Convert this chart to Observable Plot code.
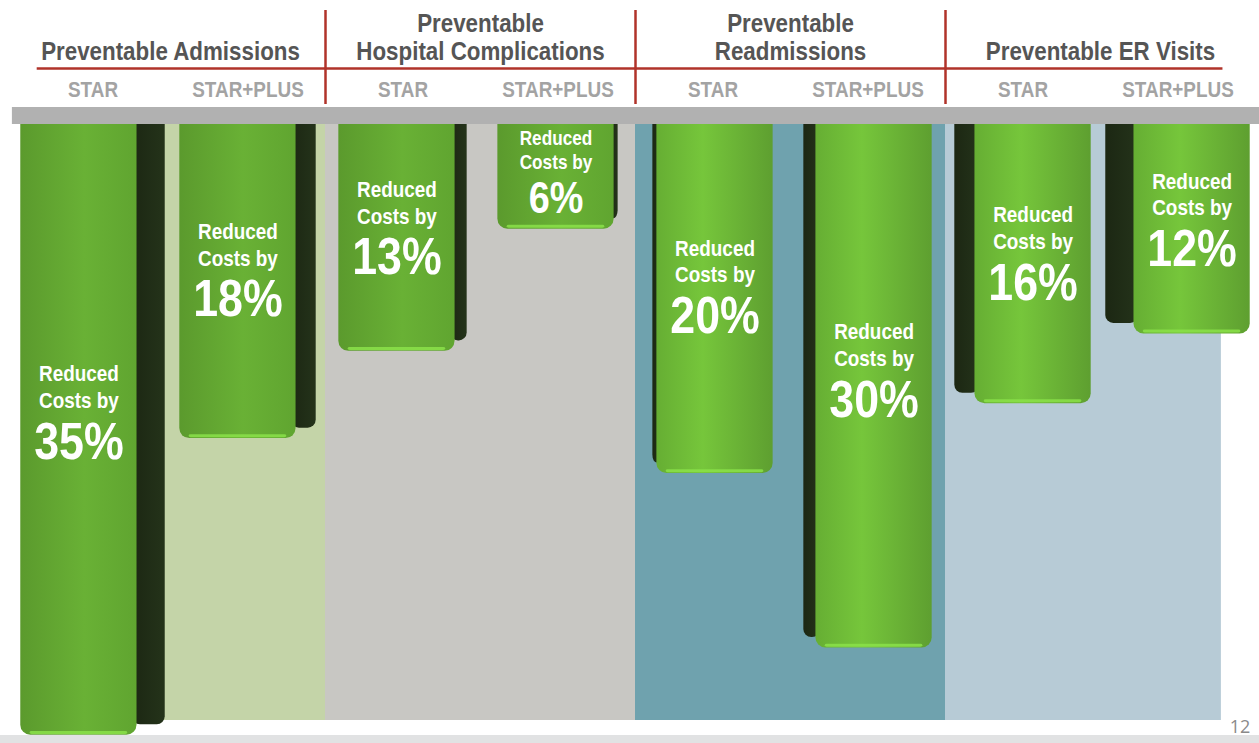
<!DOCTYPE html>
<html><head><meta charset="utf-8">
<script src="https://cdn.jsdelivr.net/npm/d3@7"></script>
<script src="https://cdn.jsdelivr.net/npm/@observablehq/plot@0.6"></script>
<style>html,body{margin:0;padding:0;background:#fff;overflow:hidden}</style>
</head><body><div id="chart"></div>
<script>
// ---- data ----
const groups = ["Preventable Admissions", "Preventable\nHospital Complications", "Preventable\nReadmissions", "Preventable ER Visits"];
const programs = ["STAR", "STAR+PLUS"];
const reductions = [35, 18, 13, 6, 20, 30, 16, 12]; // % cost reduction, group by group, STAR then STAR+PLUS
const labelLines = "Reduced\nCosts by";
const pageNumber = "12";

// ---- styles ----
const panelFill = ["#c4d4a8", "#c8c7c3", "#6fa2ae", "#b7cbd6"];
const FONT = "Liberation Sans, Arial, sans-serif";
const SQUEEZE = 0.86; // condensed look of the original typeface
const K = 17.45; // px per percentage point
const TOP = 124;  // px where bars hang from
const H = 743, W = 1259;
const u = px => (px - TOP) / K; // convert a pixel offset into y units (layout helper)

const bars = reductions.map((v, i) => {
  const c = i + 0.5;
  const p = (3.5 - i) * 0.052;      // perspective side width (slot units)
  const fw = 0.75;
  const tot = fw + Math.abs(p);
  const left = c - tot / 2;
  const face = p > 0 ? [left, left + fw] : [left + Math.abs(p), left + tot];
  const side = p > 0 ? [left + fw - 0.03, left + tot] : [left, left + Math.abs(p) + 0.03];
  return {i, group: Math.floor(i / 2), program: programs[i % 2], value: v, face, side, fc: (face[0] + face[1]) / 2,
          ly: 0.48 * v + 1.4};
});
const panels = groups.map((g, j) => ({j, x1: j === 0 ? 0.1 : 2 * j, x2: j === 3 ? 7.78 : 2 * j + 2}));

const textOpts = {fontFamily: FONT, fontWeight: "bold"};

const chart = Plot.plot({
  width: W, height: H, margin: 0,
  x: {domain: [0, 8], range: [15, 1255], axis: null},
  y: {domain: [u(0), u(H)], range: [0, H], axis: null},
  marks: [
    // bottom page strip
    Plot.rect([0], {x1: -0.1, x2: 8.1, y1: u(735), y2: u(H + 5), fill: "#e1e2e3"}),
    // panels
    Plot.rect(panels, {x1: "x1", x2: "x2", y1: -0.9, y2: u(720), fill: d => panelFill[d.j]}),
    // bar sides
    Plot.rect(bars, {x1: d => d.side[0], x2: d => d.side[1], y1: -0.85, y2: d => d.value - 0.6, fill: "url(#sideGrad)", rx: 8}),
    // bar faces
    Plot.rect(bars, {x1: d => d.face[0], x2: d => d.face[1], y1: -0.85, y2: "value", fill: d => d.i < 4 ? "url(#faceL)" : "url(#faceR)", rx: 10}),
    Plot.rect(bars, {x1: d => d.face[0] + 0.06, x2: d => d.face[1] - 0.06, y1: d => d.value - 0.22, y2: d => d.value - 0.05, fill: "#8be24a", fillOpacity: 0.85, rx: 2}),
    // top gray bar
    Plot.rect([0], {x1: -0.02, x2: 8.1, y1: u(107), y2: 0, fill: "#b1b1b1"}),
    // labels in bars
    Plot.text(bars, {x: "fc", y: d => d.ly - (d.value < 8 ? 50 : 56) / K, text: () => labelLines,
      fontSize: d => d.value < 8 ? 20 : 22, lineHeight: 1.22, fill: "white", ...textOpts}),
    Plot.text(bars, {x: "fc", y: "ly", text: d => d.value + "%", fontSize: d => d.value < 8 ? 44 : 52,
      fill: "white", ...textOpts, letterSpacing: -1}),
    // headers
    Plot.ruleY([u(68)], {x1: 0.14, x2: 7.79, stroke: "#b0332a", strokeWidth: 2.5}),
    Plot.ruleX([2, 4, 6], {y1: u(10), y2: u(104), stroke: "#b0332a", strokeWidth: 2.5}),
    Plot.text(groups, {x: (d, j) => 2 * j + 1, y: () => u(59), text: d => d, lineAnchor: "bottom", lineHeight: 1.04,
      fontSize: 26, fill: "#555555", ...textOpts}),
    Plot.text(bars, {x: d => d.i + 0.5, y: () => u(89), text: "program", fontSize: 22, fill: "#a3a3a3", ...textOpts}),
    Plot.text([pageNumber], {x: () => 7.9, y: () => u(727), text: d => d, fontSize: 18, fill: "#8a8a8a", fontFamily: "'Open Sans', sans-serif"})
  ]
});

chart.insertAdjacentHTML("afterbegin", `<defs>
  <linearGradient id="faceL" x1="0" x2="1" y1="0" y2="0">
    <stop offset="0" stop-color="#5b9a2d"/><stop offset="0.55" stop-color="#69b135"/><stop offset="1" stop-color="#60a530"/>
  </linearGradient>
  <linearGradient id="faceR" x1="0" x2="1" y1="0" y2="0">
    <stop offset="0" stop-color="#66ae33"/><stop offset="0.4" stop-color="#76c63b"/><stop offset="1" stop-color="#5e9f30"/>
  </linearGradient>
  <linearGradient id="sideGrad" x1="0" x2="1" y1="0" y2="0">
    <stop offset="0" stop-color="#1c2713"/><stop offset="1" stop-color="#24331a"/>
  </linearGradient>
</defs>`);

// condense the bold sans texts horizontally
chart.querySelectorAll("text").forEach(t => {
  const g = t.closest("g[font-family]");
  if (!g || g.getAttribute("font-family") !== FONT) return;
  const tr = t.getAttribute("transform");
  if (tr) t.setAttribute("transform", tr + ` scale(${SQUEEZE},1)`);
  else {
    const x = +t.getAttribute("x") || 0;
    t.setAttribute("transform", `translate(${x},0) scale(${SQUEEZE},1) translate(${-x},0)`);
  }
});
document.getElementById("chart").append(chart);
</script>
</body></html>
